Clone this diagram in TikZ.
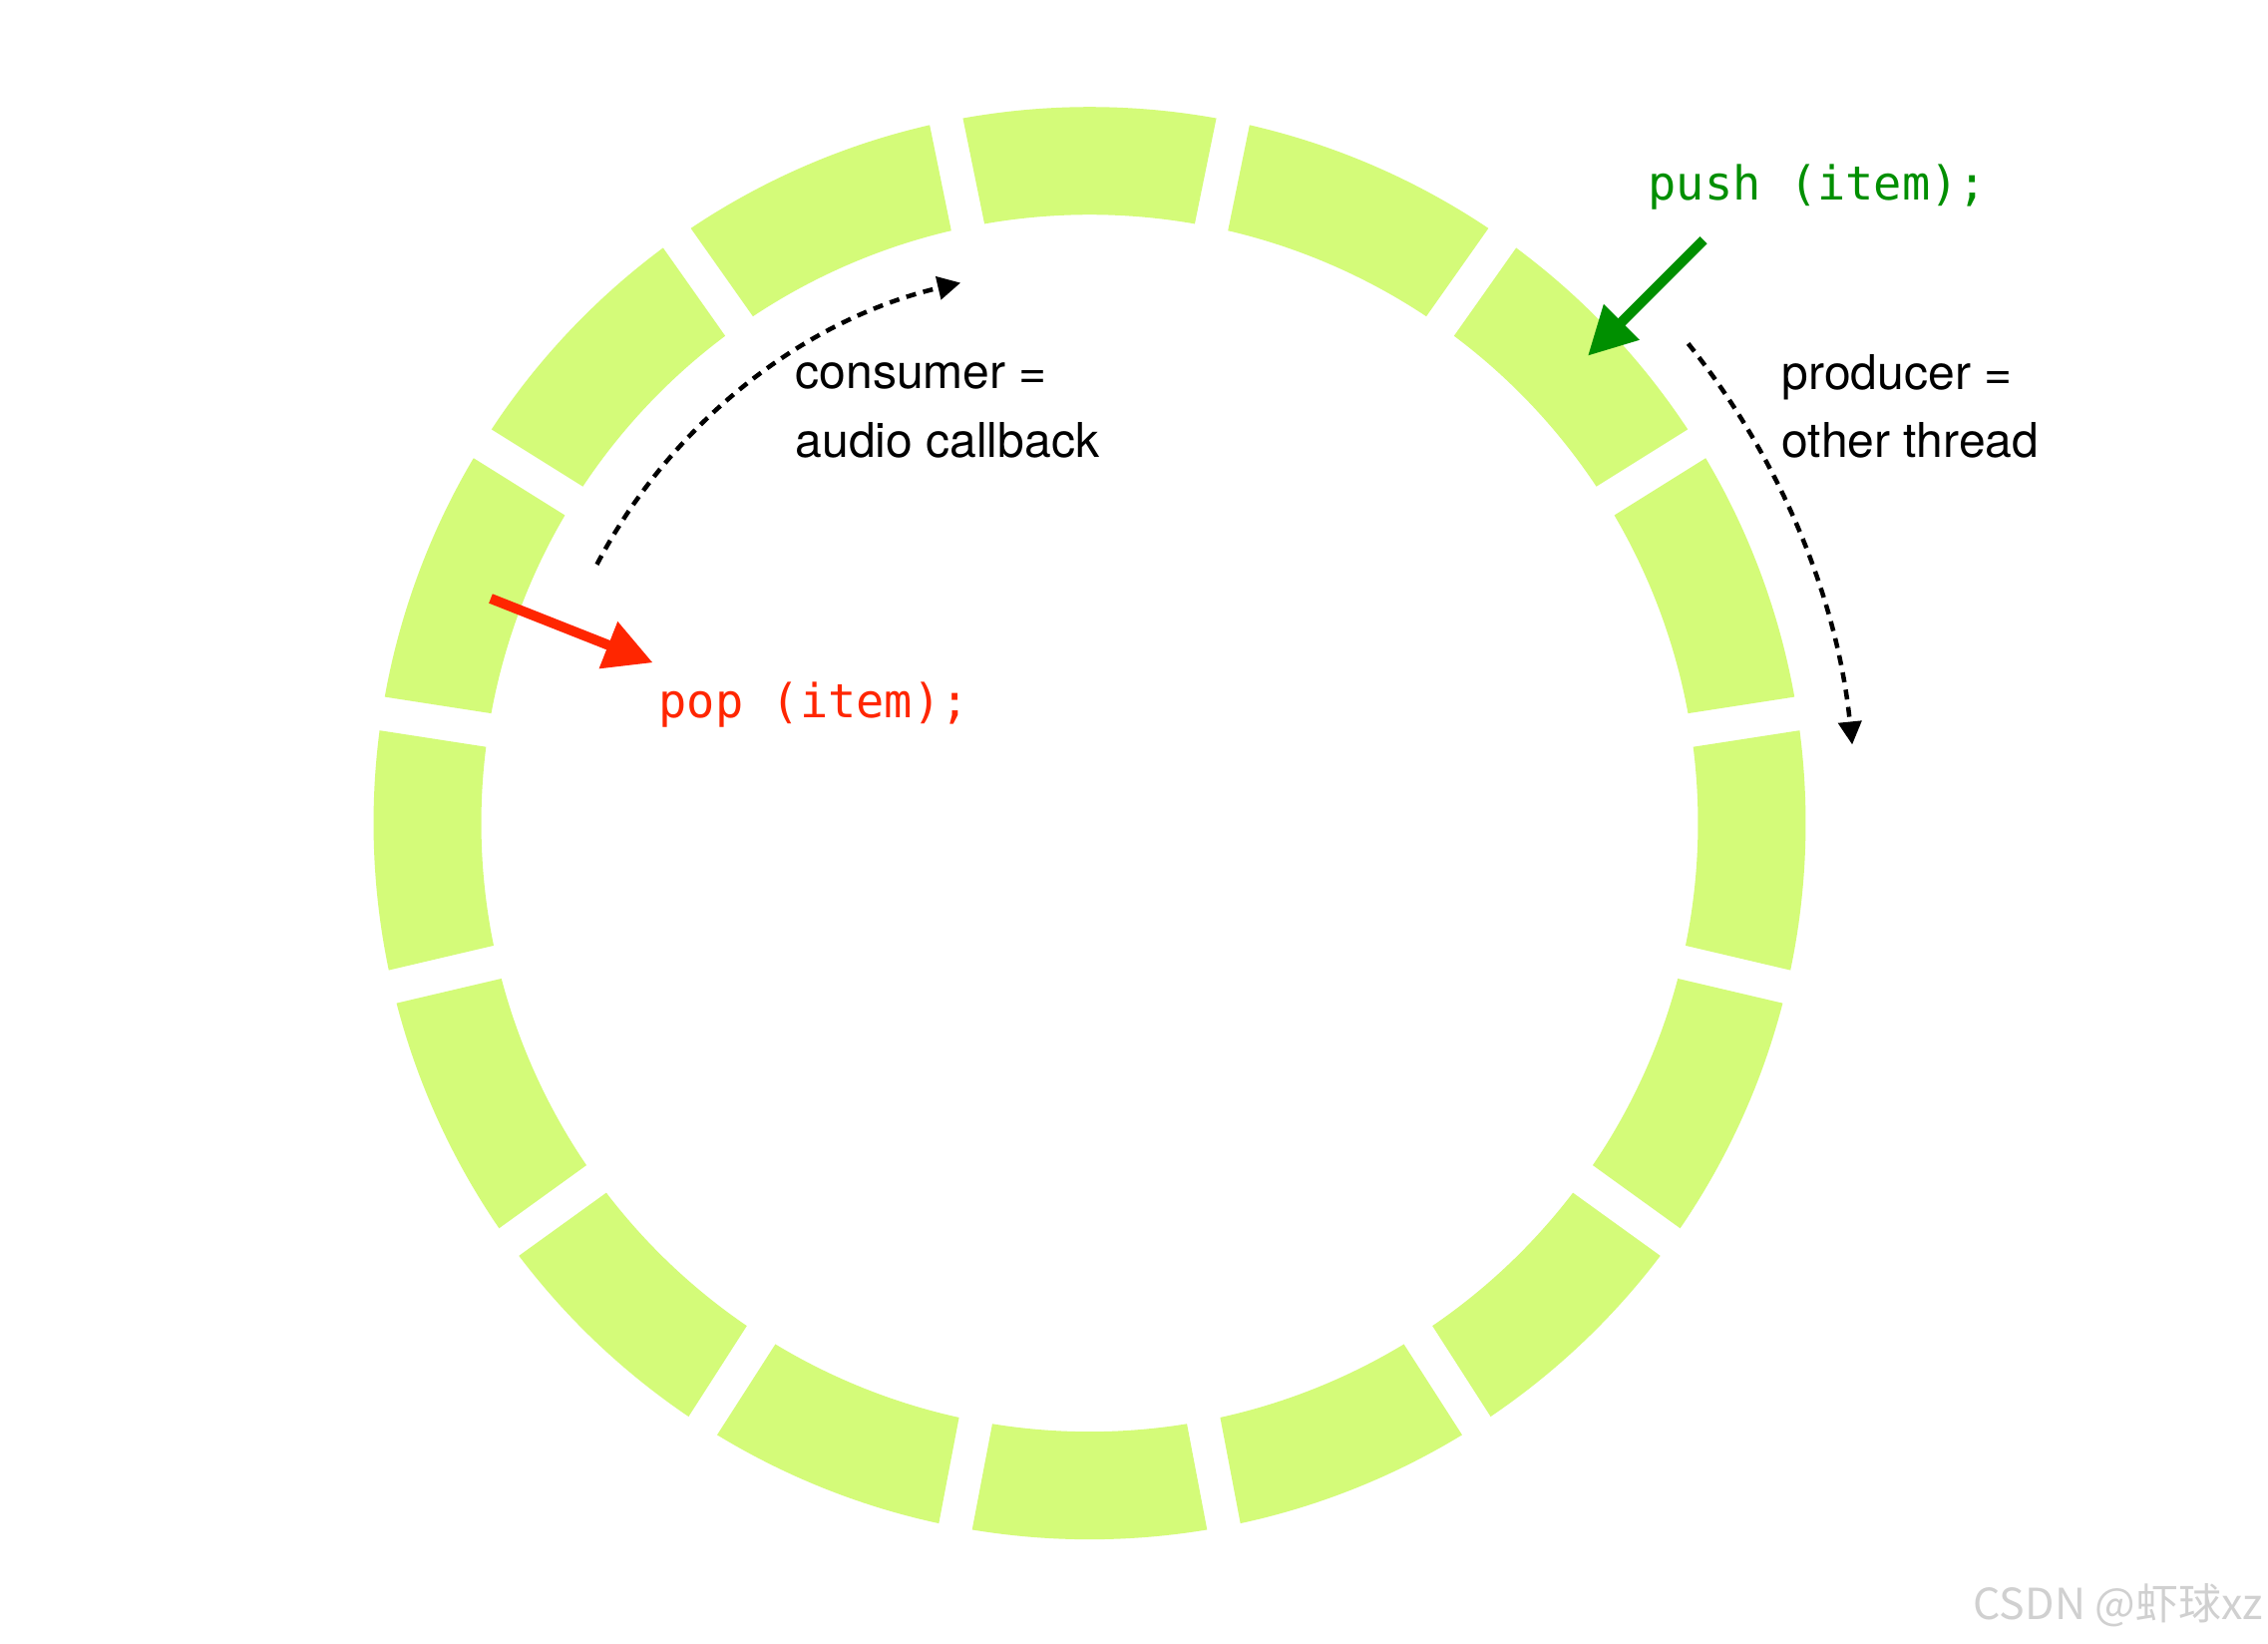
\documentclass[tikz,border=0pt]{standalone}
\usepackage{fontspec}
\setmainfont{TeX Gyre Heros}
\newfontfamily\codefont{DejaVu Sans Mono}
\newfontfamily\cjkfont{Noto Sans CJK SC}
\usetikzlibrary{arrows.meta}
\definecolor{ringgreen}{HTML}{D4FB79}
\definecolor{clover}{HTML}{008F00}
\definecolor{maraschino}{HTML}{FF2600}
\definecolor{wmgray}{RGB}{208,208,208}
\begin{document}
\begin{tikzpicture}[x=0.01cm,y=0.01cm,
  seg/.style={fill=ringgreen},
  bigarrow/.style={line width=0.1cm,-{Triangle[length=0.48cm,width=0.48cm]}},
  dotarrow/.style={line width=0.045cm,dash pattern=on 0.1cm off 0.075cm,-{Triangle[length=0.23cm,width=0.23cm]}},
  lbl/.style={inner sep=0pt,anchor=base west,font=\fontsize{13.66}{16}\selectfont},
  code/.style={inner sep=0pt,anchor=base west,font=\codefont\fontsize{13.35}{16}\selectfont}]
\fill[white] (0,0) rectangle (2274,1647);
\useasboundingbox (0,0) rectangle (2274,1647);
\coordinate (C) at (1092.5,821.8);
\begin{scope}[shift={(C)}]
\foreach \a/\b in {-79.2/-57.3,-57.3/-35.8,-35.8/-13.2,-13.2/8.8,8.8/32,32/54.8,54.8/78.45,78.45/101.55,101.55/125.2,125.2/148,148/171.2,171.2/193.2,193.2/215.8,215.8/237.3,237.3/259.2,259.2/280.8}{
  \fill[seg] ({\a+1.357}:718) arc[start angle={\a+1.357},end angle={\b-1.357},radius=718]
     -- ({\b-1.597}:610) arc[start angle={\b-1.597},end angle={\a+1.597},radius=610] -- cycle;
}
\coordinate (consS) at (152.3:558);
\coordinate (prodS) at (38.7:769);
\end{scope}
% dotted direction arcs
\draw[dotarrow] (consS) arc[start angle=152.3,end angle=103.2,radius=555];
\draw[dotarrow] (prodS) arc[start angle=38.7,end angle=5.8,radius=767];
% labels
\node[lbl] (cons1) at (797,1257) {consumer =};
\node[lbl] (cons2) at (797,1188.5) {audio callback};
\node[lbl] (prod1) at (1786,1256) {producer =};
\node[lbl] (prod2) at (1786,1188.5) {other thread};
\node[code,text=clover] (push) at (1652,1446) {push (item);};
\node[code,text=maraschino] (pop) at (660,927) {pop (item);};
% push / pop arrows
\coordinate (pushA) at (1708,1406.3);
\coordinate (pushB) at (1592,1290.3);
\draw[bigarrow,clover] (pushA) -- (pushB);
\coordinate (popA) at (492,1047);
\coordinate (popB) at (654.6,982.7);
\draw[bigarrow,maraschino] (popA) -- (popB);
% watermark
\node[inner sep=0pt,anchor=base west,text=wmgray,font=\cjkfont\fontsize{12.2}{14}\selectfont] (wm) at (1978,24) {CSDN @虾球xz};
\end{tikzpicture}
\end{document}
